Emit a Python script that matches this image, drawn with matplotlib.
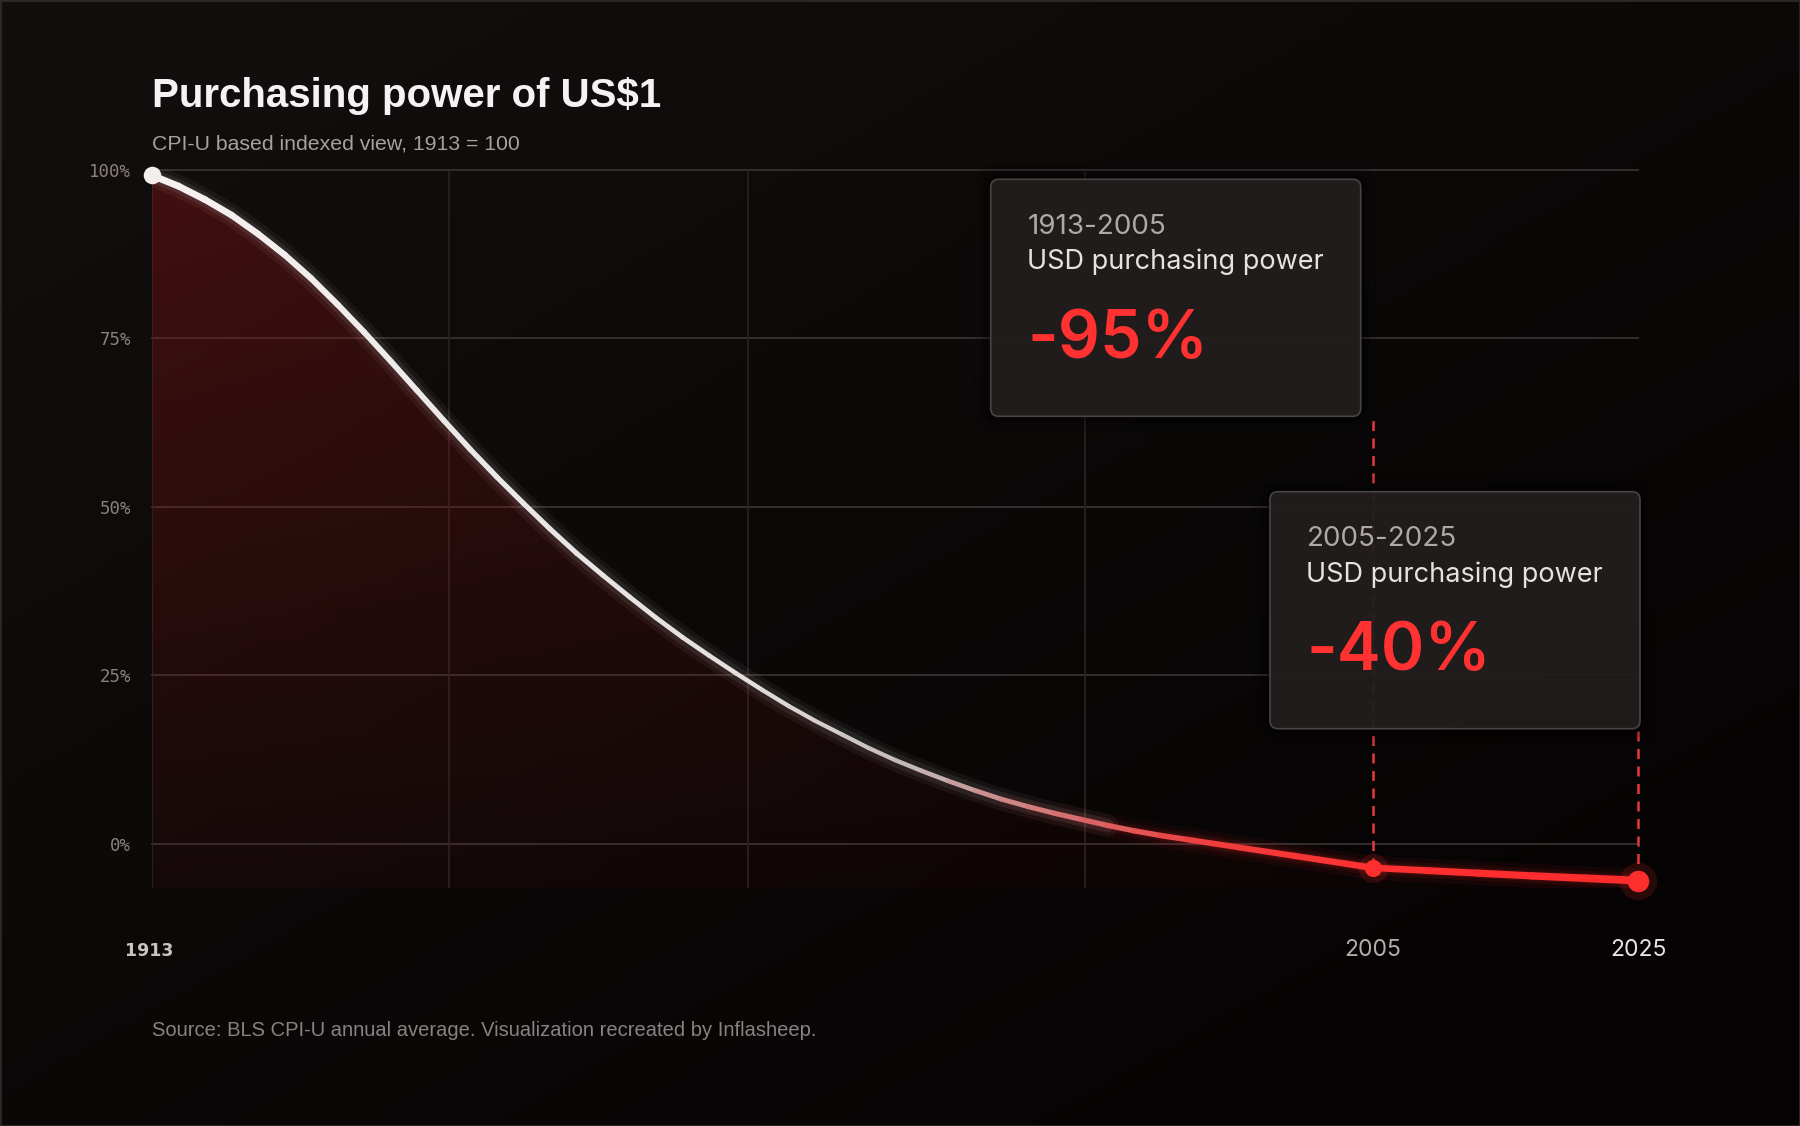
import numpy as np
import matplotlib.pyplot as plt
from matplotlib.collections import LineCollection
from matplotlib.colors import LinearSegmentedColormap
from matplotlib.patches import FancyBboxPatch

# values (% of 1913 purchasing power)
years = list(range(1913, 2006, 2)) + [2009, 2013, 2017, 2021, 2025]
power = [99.2, 97.6, 95.6, 93.3, 90.5, 87.4, 83.9, 80.0, 75.9, 71.6,
         67.2, 62.8, 58.5, 54.4, 50.5, 46.7, 43.1, 39.8, 36.6, 33.5,
         30.6, 27.9, 25.3, 22.8, 20.4, 18.2, 16.2, 14.2, 12.4, 10.8,
         9.3, 7.9, 6.6, 5.5, 4.5, 3.6, 2.7, 1.9, 1.2, 0.6,
         0.0, -0.6, -1.2, -1.8, -2.4, -3.0, -3.6,
         -4.0, -4.4, -4.8, -5.15, -5.5]

ytick_vals = [0, 25, 50, 75, 100]
ytick_labels = ['0%', '25%', '50%', '75%', '100%']
vgrid_years = [1935.4, 1957.9, 1983.3]
xlabel_years = [1913, 2005, 2025]
periods = ['1913-2005', '2005-2025']
changes = ['-95%', '-40%']

W, H = 1800, 1126
fig = plt.figure(figsize=(W / 100, H / 100), dpi=100)
fig.patch.set_facecolor('#0c0909')

# background: dark, slightly warm, darker towards bottom right
bg = fig.add_axes([0, 0, 1, 1], zorder=-10)
bg.axis('off')
gy, gx = np.mgrid[0:1:200j, 0:1:300j]
t = np.clip(0.55 * gx + 0.6 * gy, 0, 1)[..., None]
c0 = np.array([19, 15, 15]) / 255
c1 = np.array([5, 3, 3]) / 255
bg.imshow(c0 + (c1 - c0) * t, extent=[0, 1, 0, 1], origin='upper', aspect='auto')
bg.add_patch(plt.Rectangle((0, 0), 1, 1, fill=False, ec='#2e2929', lw=2))

ymin = -6.6
ax = fig.add_axes([152 / W, 1 - 888 / H, (1638 - 152) / W, (888 - 170) / H], zorder=1)
ax.set_facecolor('none')
for s in ax.spines.values():
    s.set_visible(False)
ax.set_xticks([])
ax.set_yticks(ytick_vals)
ax.set_yticklabels(ytick_labels, fontfamily='DejaVu Sans Mono', fontsize=12.5, color='#8a8080')
ax.tick_params(axis='y', length=0, pad=15)

for v in ytick_vals:
    ax.axhline(v, color='#383131', lw=1.3, zorder=0, clip_on=False)
for yv in vgrid_years + [1913]:
    ax.axvline(yv, color='#2a2323', lw=1.2, zorder=0)

# red gradient area under the curve
fill = ax.fill_between(years, power, ymin, color='none', lw=0)
grad = np.zeros((200, 300, 4))
grad[..., 0], grad[..., 1], grad[..., 2] = 0.58, 0.08, 0.08
grad[..., 3] = 0.38 * (1 - 0.8 * gy) * (1 - 0.6 * gx)
im = ax.imshow(grad, extent=[1913, 2025, ymin, 100], origin='upper', aspect='auto', zorder=1)
im.set_clip_path(fill.get_paths()[0], transform=ax.transData)
ax.set_xlim(1913, 2025)
ax.set_ylim(ymin, 100)

pts = np.column_stack([years, power])
segs = np.stack([pts[:-1], pts[1:]], axis=1)
mids = (np.array(years[:-1]) + np.array(years[1:])) / 2

# soft glow around the curve: whitish on the early part, red fading in on the tail
i_w = years.index(1985)
for lw, a in [(16, 0.05), (10, 0.08)]:
    ax.plot(years[:i_w + 1], power[:i_w + 1], color='#f0e8e8', lw=lw, alpha=a,
            solid_capstyle='round', zorder=3)
ramp = np.clip((mids - 1973) / 20, 0, 1)
for lw, a in [(24, 0.06), (15, 0.08), (10, 0.11)]:
    gc = np.zeros((len(mids), 4))
    gc[:, 0], gc[:, 1], gc[:, 2] = 1.0, 0.16, 0.16
    gc[:, 3] = a * ramp
    ax.add_collection(LineCollection(segs, colors=gc, linewidths=lw * 0.72,
                                     capstyle='butt', zorder=3))

# curve with white -> red colour along its length
cmap = LinearSegmentedColormap.from_list('pw', [
    (0.0, '#f6f2f2'), (45 / 112, '#e4dfdf'), (57 / 112, '#c2baba'),
    (64 / 112, '#cc8c8c'), (71 / 112, '#dc6464'), (80 / 112, '#f03c3c'),
    (92 / 112, '#ff3131'), (1.0, '#ff2b2b')])
cols = cmap((mids - 1913) / 112)
widths = np.interp(mids, [1913, 1940, 1965, 1990, 2025], [5.0, 3.8, 3.0, 4.0, 5.6])
ax.add_collection(LineCollection(segs, colors=cols, linewidths=widths,
                                 capstyle='round', joinstyle='round', zorder=4))

# markers and dashed guides
ax.scatter([years[0]], [power[0]], s=160, color='#f2eeee', zorder=5, clip_on=False, lw=0)
box_bottoms = [63.5, 17.1]
for yr, sz, top in zip(xlabel_years[1:], [150, 240], box_bottoms):
    v = power[years.index(yr)]
    ax.plot([yr, yr], [v, top], color='#e8383a', lw=1.8, dashes=(4, 3), zorder=2, clip_on=False)
    ax.scatter([yr], [v], s=sz * 3, color='#ff2e2e', alpha=0.15, zorder=5, clip_on=False, lw=0)
    ax.scatter([yr], [v], s=sz, color='#ff2e2e', zorder=6, clip_on=False, lw=0)

# x labels
xt = ax.get_xaxis_transform()
ax.text(1913, -0.0947, '1913 ', transform=xt, ha='center', va='baseline', fontsize=12.5,
        fontweight='bold', color='#c8c2c2', fontfamily='DejaVu Sans')
ax.text(2005, -0.0947, '2005', transform=xt, ha='center', va='baseline', fontsize=16.5,
        color='#b5adad', fontfamily='Inter')
ax.text(2025, -0.0947, '2025', transform=xt, ha='center', va='baseline', fontsize=16.5,
        color='#e8e4e4', fontfamily='Inter')

# overlay in pixel coordinates for titles and cards
ov = fig.add_axes([0, 0, 1, 1], zorder=5)
ov.set_xlim(0, W)
ov.set_ylim(H, 0)
ov.axis('off')

ov.text(152, 107, 'Purchasing power of US$1', fontsize=29, fontweight='bold',
        color='#f4f2f2', fontfamily='Liberation Sans', va='baseline')
ov.text(152, 149, 'CPI-U based indexed view, 1913 = 100', fontsize=15.3,
        color='#a8a0a0', fontfamily='Liberation Sans', va='baseline')
ov.text(152, 1036, 'Source: BLS CPI-U annual average. Visualization recreated by Inflasheep.',
        fontsize=14.5, color='#8a8282', fontfamily='Liberation Sans', va='baseline')

cards = [(990.7, 179.3), (1270, 491.7)]
cw, ch = 370, 237
for (x0, y0), per, chg in zip(cards, periods, changes):
    for pad, a in [(16, 0.10), (9, 0.15), (4, 0.22)]:
        ov.add_patch(FancyBboxPatch((x0 - pad, y0 - pad), cw + 2 * pad, ch + 2 * pad,
                                    boxstyle=f'round,pad=0,rounding_size={8 + pad}',
                                    fc=(0, 0, 0, a), ec='none'))
    ov.add_patch(FancyBboxPatch((x0, y0), cw, ch, boxstyle='round,pad=0,rounding_size=8',
                                fc=(36 / 255, 31 / 255, 31 / 255, 0.9), ec='#4a4343', lw=1.2))
    tx = x0 + 36.5
    ov.text(tx, y0 + 54.5, per, fontsize=20, color='#b0a8a8', fontfamily='Inter', va='baseline')
    ov.text(tx, y0 + 90, 'USD purchasing power', fontsize=19.5, color='#e6e2e2',
            fontfamily='Inter', va='baseline')
    ov.text(tx, y0 + 178.5, chg, fontsize=47.5, color='#ff3131', fontweight='semibold',
            fontfamily='Inter', va='baseline')

fig.savefig('out.png', dpi=100, facecolor=fig.get_facecolor())
